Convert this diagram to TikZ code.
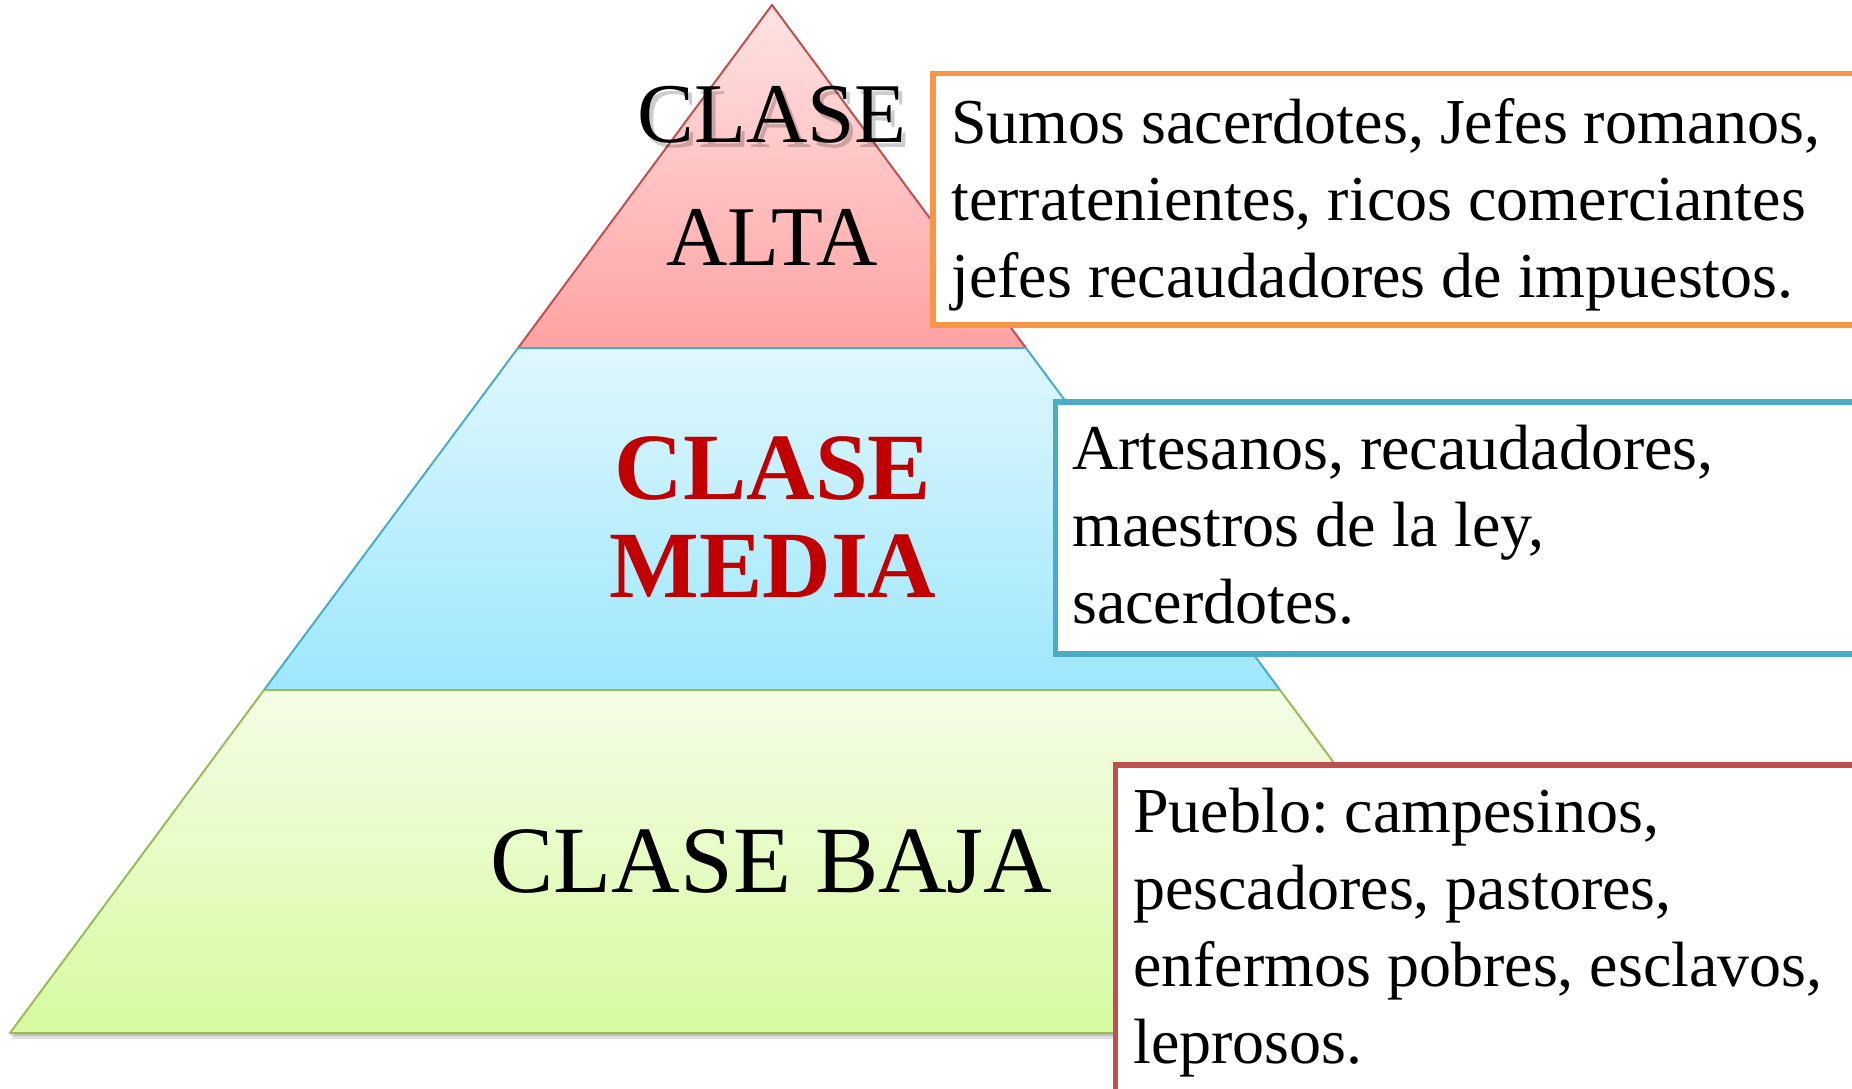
\documentclass[tikz,border=0pt]{standalone}
\usepackage{fontspec}
\setmainfont{Liberation Serif}
\frenchspacing
\definecolor{redline}{HTML}{C0504D}
\definecolor{redtop}{HTML}{FFE3E3}
\definecolor{redbot}{HTML}{FFA2A2}
\definecolor{blueline}{HTML}{4BACC6}
\definecolor{bluetop}{HTML}{DFF7FD}
\definecolor{bluebot}{HTML}{9DE7FD}
\definecolor{greenline}{HTML}{9BBB59}
\definecolor{greentop}{HTML}{F4FDE6}
\definecolor{greenbot}{HTML}{D7FAA0}
\definecolor{boxorange}{HTML}{F79646}
\definecolor{boxblue}{HTML}{4BACC6}
\definecolor{boxred}{HTML}{C0504D}
\definecolor{mediared}{HTML}{C00000}
\begin{document}
\begin{tikzpicture}[x=1pt,y=-1pt,
  layer/.style={line width=2pt, line join=round},
  descbox/.style={draw, fill=white, line width=5.5pt, rectangle, inner sep=0pt, anchor=north west},
  desctext/.style={anchor=north west, inner sep=0pt, align=left, font={\fontsize{64}{77}\selectfont\frenchspacing}},
  bigtext/.style={inner sep=0pt, align=center}
  ]
\useasboundingbox (0,0) rectangle (1852,1089);
\fill[white] (0,0) rectangle (1852,1089);
% drop shadow of the pyramid
\fill[black, opacity=0.12] (773,9) -- (1537,1039) -- (11,1039) -- cycle;
\fill[black, opacity=0.12] (773,7) -- (1536,1036) -- (10,1036) -- cycle;
% layers
\path[layer, draw=redline, top color=redtop, bottom color=redbot]
  (772,5) coordinate (apex) -- (1026,348) coordinate (r1) -- (518,348) coordinate (l1) -- cycle;
\path[layer, draw=blueline, top color=bluetop, bottom color=bluebot]
  (l1) -- (r1) -- (1280,690) coordinate (r2) -- (264,690) coordinate (l2) -- cycle;
\path[layer, draw=greenline, top color=greentop, bottom color=greenbot]
  (l2) -- (r2) -- (1534,1033) coordinate (r3) -- (10,1033) coordinate (l3) -- cycle;
% level labels
\node[bigtext, anchor=north, text=black, opacity=0.2, font={\fontsize{85}{123}\selectfont}] (altashadow) at (776,91) {CLASE};
\node[bigtext, anchor=north, font={\fontsize{85}{123}\selectfont}] (alta) at (772,86) {CLASE\\ALTA};
\node[bigtext, anchor=north, text=mediared, font={\bfseries\fontsize{95}{98}\selectfont}] (media) at (773,436) {CLASE\\MEDIA};
\node[bigtext, anchor=base, font={\fontsize{95}{95}\selectfont}] (baja) at (771.5,892) {CLASE BAJA};
% description boxes
\node[descbox, draw=boxorange, minimum width=960pt, minimum height=251pt] (box1) at (930,71) {};
\node[descbox, draw=boxblue, minimum width=900pt, minimum height=252pt] (box2) at (1052.5,399) {};
\node[descbox, draw=boxred, minimum width=850pt, minimum height=400pt] (box3) at (1112.5,762) {};
\node[desctext] (t1) at (951,98) {Sumos sacerdotes, Jefes romanos,\\terratenientes, ricos comerciantes\\jefes recaudadores de impuestos.};
\node[desctext] (t2) at (1072,425) {Artesanos, recaudadores,\\maestros de la ley,\\sacerdotes.};
\node[desctext] (t3) at (1133,788) {Pueblo: campesinos,\\pescadores, pastores,\\enfermos pobres, esclavos,\\leprosos.};
\end{tikzpicture}
\end{document}
